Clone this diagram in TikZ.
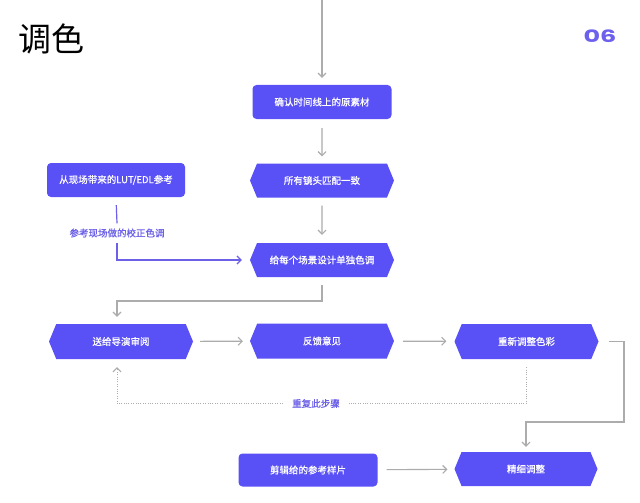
\documentclass[tikz,border=0pt]{standalone}
\usepackage{fontspec}
\newfontfamily\cjk{Noto Sans CJK SC}
\newfontfamily\cjkb[FakeBold=0.9]{Noto Sans CJK SC}
\newfontfamily\pop{Poppins}
\usetikzlibrary{arrows.meta,shapes.symbols,calc}
\definecolor{nodeblue}{RGB}{89,80,246}
\definecolor{linegray}{RGB}{172,172,172}
\definecolor{lblpurple}{RGB}{108,96,232}
\definecolor{numpurple}{RGB}{108,96,236}
\tikzset{
  nodetext/.style={text=white, font=\cjkb\fontsize{9.5}{11}\selectfont},
  boxnode/.style={rectangle, rounded corners=4pt, fill=nodeblue, nodetext, minimum width=139pt, minimum height=34pt, inner sep=0pt},
  hexnode/.style={signal, signal to=west and east, signal pointer angle=135, fill=nodeblue, nodetext, minimum width=144pt, minimum height=34pt, inner sep=0pt},
  conn/.style={draw=linegray, line width=1.1pt, -{Straight Barb[length=4pt,width=8pt]}},
  pline/.style={draw=lblpurple, line width=1.2pt},
  dotline/.style={draw=linegray, line width=1pt, dash pattern=on 1pt off 1.4pt},
  lbl/.style={text=lblpurple, font=\cjkb\fontsize{9.5}{11}\selectfont}
}
\begin{document}
\begin{tikzpicture}[x=1pt,y=-1pt]
\path[fill=white,use as bounding box] (0,0) rectangle (640,503);
% title and number
\node[font=\cjk\fontsize{33}{36}\selectfont, text=black, inner sep=0pt] (title) at (52,39) {调色};
\node[font=\pop\bfseries\fontsize{17}{18}\selectfont, text=numpurple, inner sep=0pt, xscale=1.5] (num) at (600,36) {06};
% nodes
\node[boxnode] (n1) at (322,102) {确认时间线上的原素材};
\node[hexnode] (n2) at (322,180.5) {所有镜头匹配一致};
\node[hexnode] (n3) at (322,260) {给每个场景设计单独色调};
\node[boxnode, minimum width=138pt] (lut) at (116,180) {从现场带来的LUT/EDL参考};
\node[lbl, inner sep=5pt] (lblref) at (117,233) {参考现场做的校正色调};
\node[hexnode, minimum height=35pt] (A) at (121,341.5) {送给导演审阅};
\node[hexnode, minimum height=35pt] (B) at (322,341) {反馈意见};
\node[hexnode, minimum height=35pt] (C) at (526.5,341.5) {重新调整色彩};
\node[hexnode, minimum width=143pt] (D) at (526,469) {精细调整};
\node[boxnode, minimum height=33pt] (E) at (308,470) {剪辑给的参考样片};
\node[lbl, inner xsep=9pt, inner ysep=3pt] (rep) at (316,403.5) {重复此步骤};
% connectors
\coordinate (top) at (322,0);
\coordinate (j1) at (117,301);
\coordinate (j2) at (624,422);
\draw[conn, shorten >=7pt] (top) -- (n1);
\draw[conn, shorten <=9pt, shorten >=7pt] (n1) -- (n2);
\draw[conn, shorten <=8pt, shorten >=8pt] (n2) -- (n3);
\draw[pline, shorten <=8pt] (lut.south) -- (lblref.north);
\draw[pline, -{Straight Barb[length=4pt,width=8pt]}, shorten >=8pt] (lblref.south) |- (n3.west);
\draw[conn, shorten <=8pt, shorten >=7pt] (n3.south) |- (j1) -- (j1 |- A.north);
\draw[conn, shorten <=7pt, shorten >=7pt] (A) -- (B);
\draw[conn, shorten <=9pt, shorten >=8pt] (B) -- (C);
\draw[conn, shorten <=10pt, shorten >=5pt] (C.east) -| (j2) -| (D.north);
\draw[conn, shorten <=9pt, shorten >=7pt] (E) -- (D);
\draw[dotline, shorten <=8pt] (C.south) |- (rep.east);
\draw[dotline, -{Straight Barb[length=4pt,width=8pt]}, shorten >=8pt] (rep.west) -| (j1 |- A.south);
\end{tikzpicture}
\end{document}
